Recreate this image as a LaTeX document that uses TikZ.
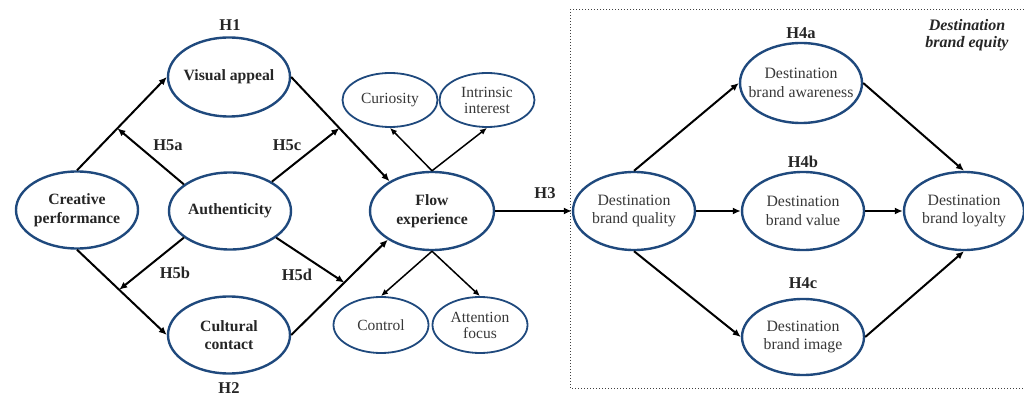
\documentclass[tikz,border=0pt]{standalone}
\usepackage{fontspec}
\setmainfont{Liberation Serif}
\usetikzlibrary{shapes.geometric,arrows.meta,calc}
\definecolor{ellblue}{RGB}{31,73,125}
\definecolor{txtgray}{RGB}{55,55,55}
\tikzset{
  bigell/.style={ellipse,draw=ellblue,line width=2.4pt,inner sep=-15pt,minimum width=122pt,minimum height=77pt,align=center,font=\fontsize{15.7}{18.5}\selectfont\bfseries,text=black!85},
  smallell/.style={ellipse,draw=ellblue,line width=1.8pt,inner sep=-15pt,minimum width=95pt,minimum height=54pt,align=center,font=\fontsize{15.5}{16}\selectfont,text=txtgray},
  brandell/.style={ellipse,draw=ellblue,line width=2.4pt,inner sep=-15pt,minimum width=122pt,minimum height=78pt,align=center,font=\fontsize{15.8}{18.5}\selectfont,text=txtgray},
  hlab/.style={font=\fontsize{16.5}{18}\selectfont\bfseries,text=black!85},
  arr/.style={line width=2pt,-{Latex[length=8pt,width=7pt]}},
  thinarr/.style={line width=1.5pt,-{Latex[length=7pt,width=6pt]}},
}
\begin{document}
\begin{tikzpicture}[x=1pt,y=-1pt]
\useasboundingbox (0,0) rectangle (1024,395);
% left part
\node[bigell] (cp) at (77,210) {Creative\\performance};
\node[bigell] (au) at (230,211) {Authenticity};
\node[bigell,minimum height=79pt] (va) at (229,77) {Visual appeal};
\node[bigell] (cc) at (229,335) {Cultural\\contact};
\node[bigell,minimum width=124pt,minimum height=78pt] (fe) at (432,211) {Flow\\experience};
\node[smallell] (cu) at (390,100) {Curiosity};
\node[smallell] (ii) at (487,100) {Intrinsic\\interest};
\node[smallell,minimum height=56pt] (co) at (381,325) {Control};
\node[smallell,minimum height=56pt] (af) at (480,325) {Attention\\focus};
% labels
\node[hlab] (h1) at (230,25) {H1};
\node[hlab] (h2) at (229,388) {H2};
\node[hlab] (h5a) at (168,145) {H5a};
\node[hlab] (h5c) at (287,145) {H5c};
\node[hlab] (h5b) at (175,273) {H5b};
\node[hlab] (h5d) at (297,275) {H5d};
\node[hlab] (h3) at (545,193) {H3};
% right part
\draw[line width=1pt,dotted,black!75] (1024,10) -- (570,10) -- (570,388) -- (1024,388);
\node[font=\fontsize{16}{16.5}\selectfont\bfseries\itshape,align=center,text=black!85] (dbe) at (967,35) {Destination\\brand equity};
\node[brandell] (dq) at (634,211) {Destination\\brand quality};
\node[brandell,minimum height=80pt] (aw) at (801,83) {Destination\\brand awareness};
\node[brandell] (bv) at (803,211) {Destination\\brand value};
\node[brandell,minimum width=120pt] (lo) at (964,211) {Destination\\brand loyalty};
\node[brandell,minimum height=76pt] (im) at (803,337) {Destination\\brand image};
\node[hlab] (h4a) at (801,33) {H4a};
\node[hlab] (h4b) at (803,162) {H4b};
\node[hlab] (h4c) at (803,283) {H4c};
% connectors left
\draw[arr] (cp.north) -- (va.west);
\draw[arr] (cp.south) -- (cc.west);
\draw[arr] (va.east) -- (fe.145);
\draw[arr] (cc.east) -- (fe.213);
\coordinate (e5a) at ($(cp.north)!0.45!(va.west)$);
\coordinate (e5c) at ($(va.east)!0.49!(fe.145)$);
\coordinate (e5b) at ($(cp.south)!0.47!(cc.west)$);
\coordinate (e5d) at ($(cc.east)!0.55!(fe.213)$);
\draw[arr] (au.150) -- (e5a);
\draw[arr] (au.35) -- (e5c);
\draw[arr] (au.210) -- (e5b);
\draw[arr] (au.330) -- (e5d);
\draw[thinarr] (fe.north) -- (cu.south);
\draw[thinarr] (fe.north) -- (ii.south);
\draw[thinarr] (fe.south) -- (co.north);
\draw[thinarr] (fe.south) -- (af.north);
\draw[arr] (fe.east) -- (dq.west);
% connectors right
\draw[arr] (dq.north) -- (aw.west);
\draw[arr] (aw.east) -- (lo.north);
\draw[arr] (dq.east) -- (bv.west);
\draw[arr] (bv.east) -- (lo.west);
\draw[arr] (dq.south) -- (im.west);
\draw[arr] (im.east) -- (lo.south);
\end{tikzpicture}
\end{document}
